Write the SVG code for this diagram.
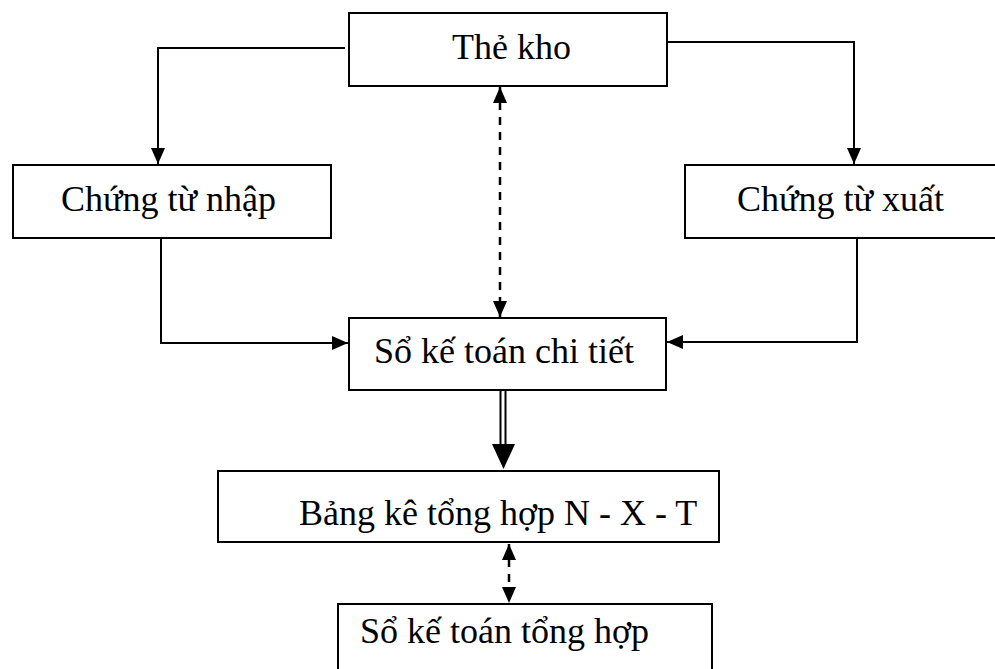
<svg xmlns="http://www.w3.org/2000/svg" width="995" height="669" viewBox="0 0 995 669">
  <style>
    .box { fill: #ffffff; stroke: #000000; stroke-width: 2; }
    .lbl { font-family: "Liberation Serif", "Times New Roman", serif; font-size: 36px; fill: #000000; }
    .ln { fill: none; stroke: #000000; stroke-width: 2; }
    .dash { fill: none; stroke: #000000; stroke-width: 2.5; stroke-dasharray: 8 7; }
  </style>
  <defs>
    <marker id="head" markerUnits="userSpaceOnUse" markerWidth="16" markerHeight="14" refX="16" refY="7" orient="auto">
      <path d="M0,0 L16,7 L0,14 Z" fill="#000000"/>
    </marker>
    <marker id="tail" markerUnits="userSpaceOnUse" markerWidth="16" markerHeight="14" refX="0" refY="7" orient="auto">
      <path d="M16,0 L0,7 L16,14 Z" fill="#000000"/>
    </marker>
  </defs>

  <rect width="995" height="669" fill="#ffffff"/>

  <g id="connectors">
    <path class="ln" d="M345,48 H158 V164" marker-end="url(#head)"/>
    <path class="ln" d="M667,42 H854 V164" marker-end="url(#head)"/>
    <path class="ln" d="M161,238 V343 H348" marker-end="url(#head)"/>
    <path class="ln" d="M857,238 V342 H667" marker-end="url(#head)"/>
    <path class="dash" d="M500,87 V317" marker-start="url(#tail)" marker-end="url(#head)"/>
    <!-- double-line arrow -->
    <line class="ln" x1="500.5" y1="391" x2="500.5" y2="446"/>
    <line class="ln" x1="505.5" y1="391" x2="505.5" y2="446"/>
    <polygon points="492,444 515,444 503.5,469" fill="#000000"/>
    <path class="dash" d="M509,544 V603" marker-start="url(#tail)" marker-end="url(#head)"/>
  </g>

  <g id="the-kho">
    <rect class="box" x="349" y="13" width="318" height="73"/>
    <text class="lbl" x="452" y="59">Thẻ kho</text>
  </g>
  <g id="chung-tu-nhap">
    <rect class="box" x="13" y="165" width="318" height="73"/>
    <text class="lbl" x="61" y="211">Chứng từ nhập</text>
  </g>
  <g id="chung-tu-xuat">
    <rect class="box" x="685" y="165" width="320" height="73"/>
    <text class="lbl" x="737" y="211">Chứng từ xuất</text>
  </g>
  <g id="so-ke-toan-chi-tiet">
    <rect class="box" x="349" y="318" width="317" height="72"/>
    <text class="lbl" x="374" y="363">Sổ kế toán chi tiết</text>
  </g>
  <g id="bang-ke-tong-hop">
    <rect class="box" x="218" y="471" width="501" height="71"/>
    <text class="lbl" x="299" y="525">Bảng kê tổng hợp N - X - T</text>
  </g>
  <g id="so-ke-toan-tong-hop">
    <rect class="box" x="338" y="604" width="374" height="80"/>
    <text class="lbl" x="360" y="643">Sổ kế toán tổng hợp</text>
  </g>
</svg>
